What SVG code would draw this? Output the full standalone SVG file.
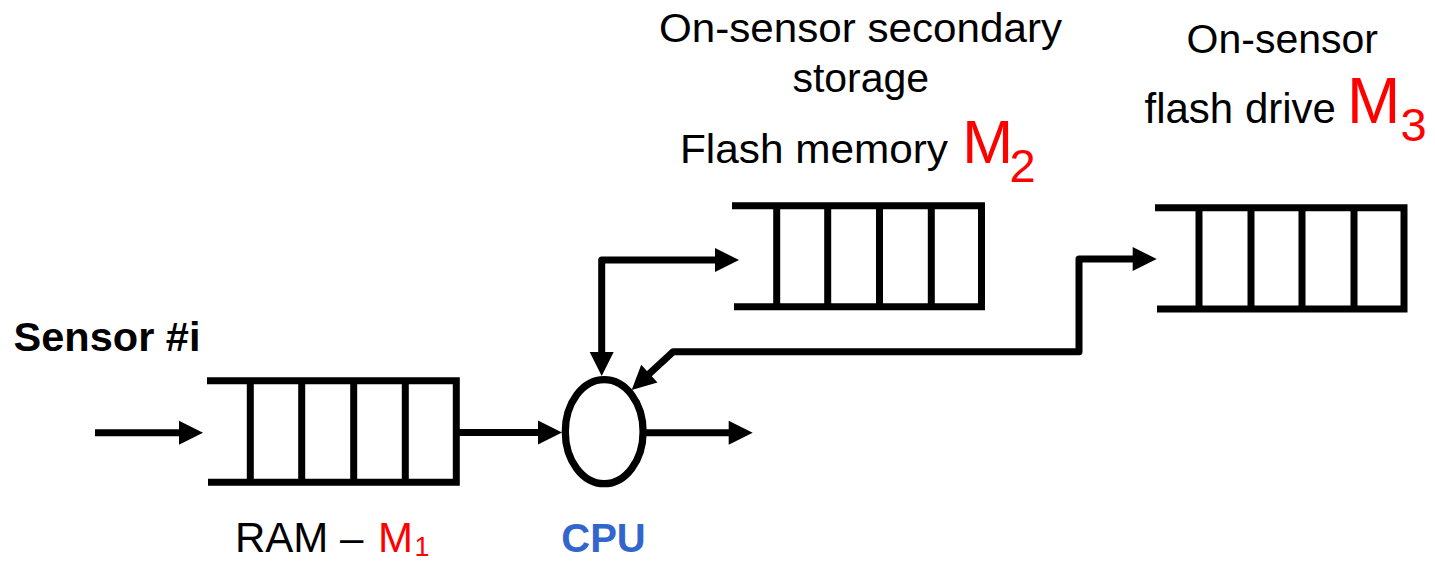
<svg xmlns="http://www.w3.org/2000/svg" width="1435" height="562" viewBox="0 0 1435 562">
<style>
.q{fill:none;stroke:#000;stroke-width:7;stroke-linejoin:miter;stroke-linecap:butt}
.c{fill:none;stroke:#000;stroke-width:7;stroke-linejoin:round;stroke-linecap:butt}
.t{font-family:"Liberation Sans",Arial,sans-serif;fill:#000}
.r{fill:#ff0000}
</style>
<defs>
<marker id="ah" markerUnits="userSpaceOnUse" markerWidth="24" markerHeight="24" viewBox="0 0 24 24" refX="4" refY="12" orient="auto-start-reverse" overflow="visible">
<path d="M0,0 L24,12 L0,24 z" fill="#000"/>
</marker>
</defs>
<rect width="1435" height="562" fill="#fff"/>

<g id="sensor-label">
<text class="t" x="13.5" y="351" font-size="40" font-weight="bold" textLength="187" lengthAdjust="spacingAndGlyphs">Sensor #i</text>
</g>

<g id="ram">
<path class="q" d="M207,380.7 H456.3 V482.3 H208"/>
<path class="q" d="M250.3,380.7 V482.3 M301.7,380.7 V482.3 M353.7,380.7 V482.3 M405.3,380.7 V482.3"/>
<text class="t" x="235" y="552" font-size="42">RAM – <tspan class="r" x="378">M</tspan><tspan class="r" x="414.5" y="556" font-size="27">1</tspan></text>
</g>

<g id="cpu">
<ellipse cx="604.2" cy="431.7" rx="38.9" ry="52" fill="#fff" stroke="#000" stroke-width="7.3"/>
<text x="603.5" y="552" font-family="Liberation Sans,Arial,sans-serif" font-size="40" font-weight="bold" fill="#3366cc" text-anchor="middle">CPU</text>
</g>

<g id="flash-memory">
<path class="q" d="M732,205.7 H981.5 V306.7 H734"/>
<path class="q" d="M776.7,205.7 V306.7 M827.7,205.7 V306.7 M879.5,205.7 V306.7 M931.3,205.7 V306.7"/>
<text class="t" x="860.5" y="41.7" font-size="41" text-anchor="middle" textLength="403" lengthAdjust="spacingAndGlyphs">On-sensor secondary</text>
<text class="t" x="860.8" y="91.7" font-size="41" text-anchor="middle">storage</text>
<text class="t" x="680" y="163.3" font-size="41" textLength="268" lengthAdjust="spacingAndGlyphs">Flash memory</text>
<text class="t r" x="962.2" y="163.3" font-size="61">M</text>
<text class="t r" x="1009.5" y="181.7" font-size="47">2</text>
</g>

<g id="flash-drive">
<path class="q" d="M1155,207.7 H1404 V309 H1157"/>
<path class="q" d="M1199,207.7 V309 M1251,207.7 V309 M1302,207.7 V309 M1354,207.7 V309"/>
<text class="t" x="1282.3" y="53.3" font-size="41" text-anchor="middle">On-sensor</text>
<text class="t" x="1144.5" y="123.3" font-size="42">flash drive</text>
<text class="t r" x="1347" y="123.3" font-size="64">M</text>
<text class="t r" x="1400.5" y="140.7" font-size="47">3</text>
</g>

<g id="connectors">
<path class="c" d="M95,432.7 H183" marker-end="url(#ah)"/>
<path class="c" d="M456,432.5 H542" marker-end="url(#ah)"/>
<path class="c" d="M645,432.7 H732.7" marker-end="url(#ah)"/>
<path class="c" d="M601.7,356 V260 H719" marker-start="url(#ah)" marker-end="url(#ah)"/>
<path class="c" d="M646.4,376.4 L673.3,351.7 H1079 V259 H1136.7" marker-start="url(#ah)" marker-end="url(#ah)"/>
</g>
</svg>
